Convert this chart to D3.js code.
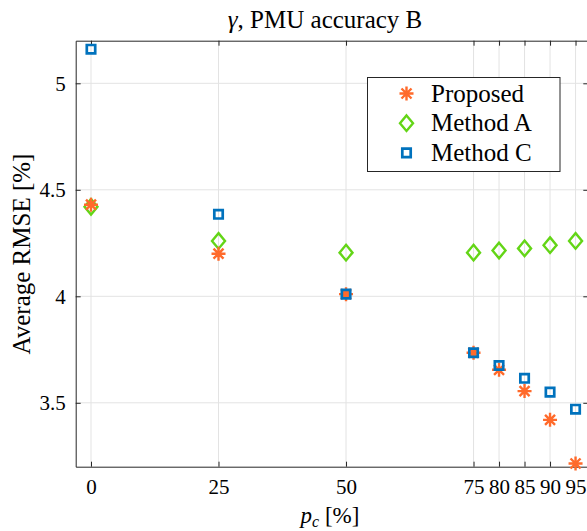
<!DOCTYPE html>
<html>
<head>
<meta charset="utf-8">
<script src="https://cdn.jsdelivr.net/npm/d3@7"></script>
<style>
  body { margin: 0; background: #fff; }
  svg { display: block; font-family: "Liberation Serif", "Times New Roman", serif; }
</style>
</head>
<body>
<div id="chart"></div>
<script>
// values
var pc = [0, 25, 50, 75, 80, 85, 90, 95];
var proposed = [4.43, 4.20, 4.01, 3.735, 3.655, 3.555, 3.42, 3.215];
var methodA = [4.42, 4.26, 4.205, 4.205, 4.215, 4.225, 4.24, 4.26];
var methodC = [5.16, 4.385, 4.01, 3.735, 3.675, 3.615, 3.55, 3.47];
var xTicks = [0, 25, 50, 75, 80, 85, 90, 95];
var yTicks = [3.5, 4, 4.5, 5];

var width = 587, height = 531;
var mLeft = 75.7, mRight = 588.3, mTop = 40.7, mBottom = 466.7;

var x = d3.scaleLinear().domain([-3, 97.5]).range([mLeft, mRight]);
var y = d3.scaleLinear().domain([3.2, 5.2]).range([mBottom, mTop]);

var svg = d3.select("#chart").append("svg")
            .attr("width", width)
            .attr("height", height);

// grid
svg.append("g").selectAll("line").data(xTicks).enter().append("line")
   .attr("x1", function(d) { return x(d); }).attr("x2", function(d) { return x(d); })
   .attr("y1", mTop).attr("y2", mBottom)
   .attr("stroke", "#e3e3e3").attr("stroke-width", 1);
svg.append("g").selectAll("line").data(yTicks).enter().append("line")
   .attr("x1", mLeft).attr("x2", mRight)
   .attr("y1", function(d) { return y(d); }).attr("y2", function(d) { return y(d); })
   .attr("stroke", "#e3e3e3").attr("stroke-width", 1);

// axes, ticks inward on all four sides
var axColor = "#262626";
function styleAxis(g) {
  g.select(".domain").attr("stroke", axColor);
  g.selectAll(".tick line").attr("stroke", axColor);
  g.selectAll(".tick text").attr("fill", "#000").style("font-family", "Liberation Serif").style("font-size", "21px");
}
svg.append("g").attr("transform", "translate(0," + mBottom + ")")
   .call(d3.axisBottom(x).tickValues(xTicks).tickSize(-5).tickSizeOuter(0).tickPadding(12).tickFormat(d3.format("d")))
   .call(styleAxis);
svg.append("g").attr("transform", "translate(0," + mTop + ")")
   .call(d3.axisTop(x).tickValues(xTicks).tickSize(-5).tickSizeOuter(0).tickFormat(""))
   .call(styleAxis);
svg.append("g").attr("transform", "translate(" + mLeft + ",0)")
   .call(d3.axisLeft(y).tickValues(yTicks).tickSize(-5).tickSizeOuter(0).tickPadding(10).tickFormat(function(d) { return d === 4 || d === 5 ? d : d.toFixed(1); }))
   .call(styleAxis);
svg.append("g").attr("transform", "translate(" + mRight + ",0)")
   .call(d3.axisRight(y).tickValues(yTicks).tickSize(-5).tickSizeOuter(0).tickFormat(""))
   .call(styleAxis);

// markers
var orange = "#ff6a2b", green = "#63d516", blue = "#0072bd";
var star = "M-7,0H7M0,-7V7M-5,-5L5,5M-5,5L5,-5";
var diamond = "M0,-7.8L6.5,0L0,7.8L-6.5,0Z";
var square = "M-4.2,-4.2H4.2V4.2H-4.2Z";

function drawSeries(vals, path, color, sw) {
  svg.append("g").selectAll("path").data(vals).enter().append("path")
     .attr("transform", function(d, i) { return "translate(" + x(pc[i]) + "," + y(d) + ")"; })
     .attr("d", path)
     .attr("fill", "none")
     .attr("stroke", color)
     .attr("stroke-width", sw);
}
drawSeries(methodA, diamond, green, 2.4);
drawSeries(proposed, star, orange, 2.4);
drawSeries(methodC, square, blue, 2.7);

// legend
var lg = svg.append("g");
lg.append("rect").attr("x", 367.5).attr("y", 77.5).attr("width", 192.5).attr("height", 94)
  .attr("fill", "#fff").attr("stroke", axColor).attr("stroke-width", 1);
var legendItems = [
  {name: "Proposed", path: star, color: orange, sw: 2.4},
  {name: "Method A", path: diamond, color: green, sw: 2.4},
  {name: "Method C", path: square, color: blue, sw: 2.7}
];
legendItems.forEach(function(d, i) {
  var cy = 93.5 + i * 29.7;
  lg.append("path").attr("transform", "translate(406.5," + cy + ")")
    .attr("d", d.path).attr("fill", "none").attr("stroke", d.color).attr("stroke-width", d.sw);
  lg.append("text").attr("x", 431).attr("y", cy + 8).attr("font-size", "25px").text(d.name);
});

// title and labels
svg.append("text").attr("x", 325).attr("y", 28).attr("text-anchor", "middle").attr("font-size", "25px")
   .html('<tspan font-style="italic">γ</tspan>, PMU accuracy B');
svg.append("text").attr("x", 330).attr("y", 523).attr("text-anchor", "middle").attr("font-size", "23px")
   .html('<tspan font-style="italic">p</tspan><tspan font-style="italic" font-size="16px" dy="4">c</tspan><tspan dy="-4"> [%]</tspan>');
svg.append("text").attr("transform", "translate(30,254) rotate(-90)").attr("text-anchor", "middle").attr("font-size", "25px")
   .text("Average RMSE [%]");
</script>
</body>
</html>
